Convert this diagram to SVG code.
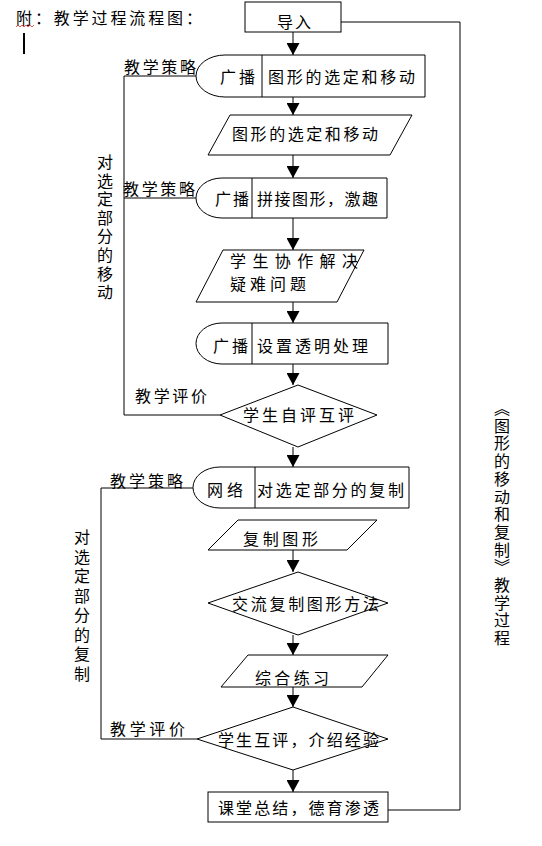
<svg xmlns="http://www.w3.org/2000/svg" width="542" height="846" viewBox="0 0 542 846">
<style>
.n { fill:#fff; stroke:#000; stroke-width:1; }
.c { fill:none; stroke:#000; stroke-width:1; }
.t { font-family:"Noto Sans CJK SC","Noto Sans CJK JP",sans-serif; font-size:16px; fill:#000; dominant-baseline:central; }
.v { font-family:"Noto Sans CJK SC","Noto Sans CJK JP",sans-serif; font-size:16px; fill:#000; writing-mode:vertical-rl; }
</style>
<defs>
<marker id="ah" markerWidth="13" markerHeight="13" refX="12" refY="6.5" orient="auto" markerUnits="userSpaceOnUse">
<path d="M0,0 L12,6.5 L0,13 Z" fill="#000"/>
</marker>
</defs>
<rect width="542" height="846" fill="#fff"/>

<g id="title">
<text class="t" x="16" y="17" textLength="186" lengthAdjust="spacing">附：教学过程流程图：</text>
<path d="M16,27 l2,-2 l2,2 l2,-2 l2,2 l2,-2 l2,2 l2,-2 l2,2 l2,-2" fill="none" stroke="#e03030" stroke-width="0.8"/>
<line x1="24" y1="33" x2="24" y2="54" stroke="#000" stroke-width="2"/>
</g>

<g id="connectors">
<path class="c" d="M341,22 H460 V810 H388"/>
<path class="c" d="M196,76 H124 V415 H220"/>
<path class="c" d="M196,198 H124"/>
<path class="c" d="M193,488 H101 V739 H197"/>
<line class="c" x1="293" y1="32" x2="293" y2="55" marker-end="url(#ah)"/>
<line class="c" x1="293" y1="97" x2="293" y2="115" marker-end="url(#ah)"/>
<line class="c" x1="293" y1="155" x2="293" y2="178" marker-end="url(#ah)"/>
<line class="c" x1="293" y1="218" x2="293" y2="250" marker-end="url(#ah)"/>
<line class="c" x1="293" y1="302" x2="293" y2="323" marker-end="url(#ah)"/>
<line class="c" x1="293" y1="364" x2="293" y2="385" marker-end="url(#ah)"/>
<line class="c" x1="293" y1="447" x2="293" y2="467" marker-end="url(#ah)"/>
<line class="c" x1="293" y1="550" x2="293" y2="572" marker-end="url(#ah)"/>
<line class="c" x1="293" y1="635" x2="293" y2="655" marker-end="url(#ah)"/>
<line class="c" x1="293" y1="687" x2="293" y2="707" marker-end="url(#ah)"/>
<line class="c" x1="293" y1="770" x2="293" y2="792" marker-end="url(#ah)"/>
</g>

<g id="labels">
<text class="t" x="124" y="66" textLength="72" lengthAdjust="spacing">教学策略</text>
<text class="t" x="123" y="188" textLength="72" lengthAdjust="spacing">教学策略</text>
<text class="t" x="135" y="395" textLength="72" lengthAdjust="spacing">教学评价</text>
<text class="t" x="110" y="480" textLength="73" lengthAdjust="spacing">教学策略</text>
<text class="t" x="110" y="728" textLength="75" lengthAdjust="spacing">教学评价</text>
<text class="v" x="105" y="154" style="letter-spacing:2.6px">对选定部分的移动</text>
<text class="v" x="82" y="529" style="letter-spacing:3.5px">对选定部分的复制</text>
<text class="v" x="502" y="400" style="letter-spacing:1.7px">《图形的移动和复制》教学过程</text>
</g>

<g id="n-daoru">
<rect class="n" x="245" y="2" width="96" height="30"/>
<text class="t" x="277" y="21" textLength="34" lengthAdjust="spacing">导入</text>
</g>

<g id="n-t1">
<path class="n" d="M225,55 H425 V97 H225 A29 21 0 0 1 225,55 Z"/>
<line class="c" x1="262" y1="55" x2="262" y2="97"/>
<text class="t" x="220" y="76" textLength="35" lengthAdjust="spacing">广播</text>
<text class="t" x="268" y="76" textLength="147" lengthAdjust="spacing">图形的选定和移动</text>
</g>

<g id="n-p1">
<polygon class="n" points="230,115 412,115 390,155 208,155"/>
<text class="t" x="232" y="133" textLength="146" lengthAdjust="spacing">图形的选定和移动</text>
</g>

<g id="n-t2">
<path class="n" d="M222,178 H387 V218 H222 A26 20 0 0 1 222,178 Z"/>
<line class="c" x1="252" y1="178" x2="252" y2="218"/>
<text class="t" x="215" y="198" textLength="34" lengthAdjust="spacing">广播</text>
<text class="t" x="257" y="198" textLength="121" lengthAdjust="spacing">拼接图形，激趣</text>
</g>

<g id="n-p2">
<polygon class="n" points="223,250 364,250 337,302 196,302"/>
<text class="t" x="230" y="260" textLength="128" lengthAdjust="spacing">学生协作解决</text>
<text class="t" x="230" y="283" textLength="76" lengthAdjust="spacing">疑难问题</text>
</g>

<g id="n-t3">
<path class="n" d="M222,323 H388 V364 H222 A26 20.5 0 0 1 222,323 Z"/>
<line class="c" x1="252" y1="323" x2="252" y2="364"/>
<text class="t" x="213" y="345" textLength="35" lengthAdjust="spacing">广播</text>
<text class="t" x="257" y="345" textLength="111" lengthAdjust="spacing">设置透明处理</text>
</g>

<g id="n-d1">
<polygon class="n" points="298,385 377,415 298,447 220,415"/>
<text class="t" x="243" y="414" textLength="111" lengthAdjust="spacing">学生自评互评</text>
</g>

<g id="n-t4">
<path class="n" d="M220,467 H409 V508 H220 A27 20.5 0 0 1 220,467 Z"/>
<line class="c" x1="255" y1="467" x2="255" y2="508"/>
<text class="t" x="207" y="489" textLength="36" lengthAdjust="spacing">网络</text>
<text class="t" x="257" y="489" textLength="147" lengthAdjust="spacing">对选定部分的复制</text>
</g>

<g id="n-p3">
<polygon class="n" points="238,520 377,520 347,550 208,550"/>
<text class="t" x="243" y="538" textLength="75" lengthAdjust="spacing">复制图形</text>
</g>

<g id="n-d2">
<polygon class="n" points="298,572 388,603 298,635 208,603"/>
<text class="t" x="232" y="603" textLength="147" lengthAdjust="spacing">交流复制图形方法</text>
</g>

<g id="n-p4">
<polygon class="n" points="248,655 388,655 362,687 221,687"/>
<text class="t" x="255" y="677" textLength="74" lengthAdjust="spacing">综合练习</text>
</g>

<g id="n-d3">
<polygon class="n" points="293,707 388,739 293,770 197,739"/>
<text class="t" x="218" y="739" textLength="161" lengthAdjust="spacing">学生互评，介绍经验</text>
</g>

<g id="n-b5">
<rect class="n" x="208" y="792" width="180" height="30"/>
<text class="t" x="218" y="807" textLength="161" lengthAdjust="spacing">课堂总结，德育渗透</text>
</g>
</svg>
